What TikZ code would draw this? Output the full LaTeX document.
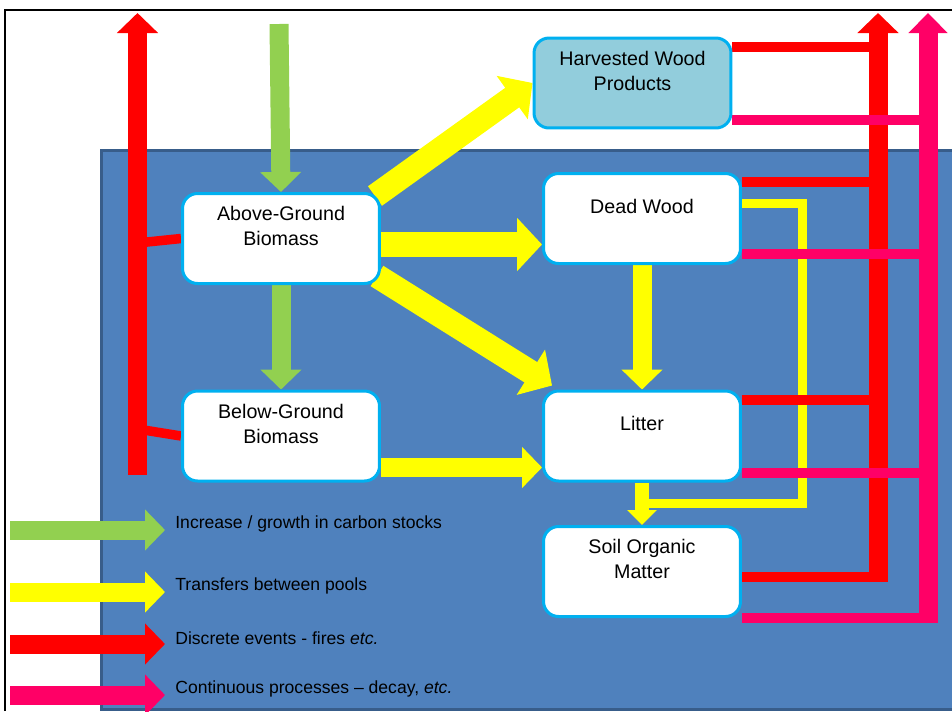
\documentclass[tikz,border=0pt]{standalone}
\usepackage{fontspec}
\setmainfont{Liberation Sans}
\usetikzlibrary{arrows.meta}
\definecolor{growgreen}{HTML}{92D050}
\definecolor{moveyellow}{HTML}{FFFF00}
\definecolor{firered}{HTML}{FF0000}
\definecolor{decaypink}{HTML}{FF0066}
\definecolor{poolline}{HTML}{00B0F0}
\definecolor{hwpfill}{HTML}{92CDDC}
\definecolor{sitefill}{HTML}{4F81BD}
\definecolor{siteline}{HTML}{385D8A}
\pgfdeclarelayer{back}
\pgfdeclarelayer{flows}
\pgfsetlayers{back,flows,main}
\tikzset{pool/.style={draw=poolline, line width=0.06cm, fill=white, rounded corners=0.3cm, minimum width=3.94cm, minimum height=1.8cm}}
\tikzset{pooltext/.style={font=\fontsize{11.2}{14.2}\selectfont, align=center, yshift=0.25cm}}
\tikzset{flow/.style={line width=0.38cm, -{Triangle[width=0.8cm,length=0.4cm]}}}
\tikzset{bigflow/.style={line width=0.5cm, -{Triangle[width=1.04cm,length=0.5cm]}}}
\tikzset{slimflow/.style={line width=0.28cm, -{Triangle[width=0.58cm,length=0.3cm]}}}
\tikzset{branch/.style={line width=0.19cm}}
\tikzset{loopline/.style={draw=moveyellow, line width=0.18cm}}
\tikzset{legtext/.style={font=\fontsize{10}{12}\selectfont, anchor=west, inner sep=0pt}}

\begin{document}
\begin{tikzpicture}[x=0.02cm,y=-0.02cm]
  \useasboundingbox (0,0) rectangle (952,711);
  % pools
  \foreach \x/\y/\lab/\txt in {
    281/238.5/agb/{Above-Ground\\Biomass},
    281/436/bgb/{Below-Ground\\Biomass},
    642/218.5/dw/{Dead Wood},
    642/436/lit/{Litter},
    642/571.5/som/{Soil Organic\\Matter}%
  } {
    \node[pool, label={[pooltext]center:\txt}] (\lab) at (\x, \y) {};
  }
  \node[pool, fill=hwpfill, label={[pooltext]center:Harvested Wood\\Products}] (hwp) at (632.5, 83) {};

  % free ends of the flows
  \coordinate (growin) at (279, 24);
  \coordinate (firel) at (137.5, 475);
  \coordinate (firelt) at (137.5, 13);
  \coordinate (fireagb) at (137.5, 243);
  \coordinate (firebgb) at (137.5, 429);
  \coordinate (firer) at (878, 582);
  \coordinate (firert) at (878, 13);
  \coordinate (decay) at (928, 623);
  \coordinate (decayt) at (928, 13);
  \coordinate (loopa) at (802, 203);
  \coordinate (loopb) at (802, 503);
  \coordinate (agbout) at ([shift={(0,6)}]agb.east);
  \coordinate (bgbout) at ([shift={(0,-15)}]bgb.south east);

  \begin{pgfonlayer}{back}
    \fill[sitefill] (101,150) rectangle (952,709);
    \draw[siteline, line width=0.06cm] (952,150) -- (101,150) -- (101,709) -- (952,709);
    \draw[black, line width=0.03cm] (5,711) -- (5,10) -- (952,10);
  \end{pgfonlayer}

  \begin{pgfonlayer}{flows}
    % growth
    \draw[flow, growgreen] (growin) -- (agb.north);
    \draw[flow, growgreen] (agb.south) -- (bgb.north);
    % transfers
    \draw[bigflow, moveyellow] (agbout) -- (agbout -| dw.west);
    \draw[bigflow, moveyellow, line width=0.48cm] ([shift={(-6,4)}]agb.north east) -- (hwp.west);
    \draw[bigflow, moveyellow, line width=0.48cm] ([shift={(-4,-9)}]agb.south east) -- ([shift={(10,-4)}]lit.north west);
    \draw[flow, moveyellow] (bgbout) -- (bgbout -| lit.west);
    \draw[flow, moveyellow] (dw.south) -- (lit.north);
    \draw[loopline] (loopa -| dw.east) -- (loopa) -- (loopb) -- (loopb -| lit.south);
    \draw[slimflow, moveyellow] (lit.south) -- (som.north);
    % events and processes
    \draw[flow, firered] (firel) -- (firelt);
    \draw[branch, firered] (agb.west) -- (fireagb);
    \draw[branch, firered] (bgb.west) -- (firebgb);
    \draw[flow, firered] (firer) -- (firert);
    \draw[flow, decaypink, -{Triangle[width=0.76cm,length=0.4cm]}] (decay) -- (decayt);
    \foreach \n/\dy in {hwp/-36,dw/-36.5,lit/-36,som/5.5} {
      \path ([shift={(0,\dy)}]\n.east) coordinate (fb);
      \draw[branch, firered] (fb) -- (fb -| firer);
    }
    \foreach \n/\dy in {hwp/37,dw/35.5,lit/37,som/46.5} {
      \path ([shift={(0,\dy)}]\n.east) coordinate (pb);
      \draw[branch, decaypink] (pb) -- (pb -| decay);
    }
  \end{pgfonlayer}

  % legend
  \foreach \col/\y/\txt [count=\i] in {
    growgreen/530/{Increase / growth in carbon stocks},
    moveyellow/592/{Transfers between pools},
    firered/644/{Discrete events - fires \textit{etc.}},
    decaypink/695/{Continuous processes -- decay, \textit{etc.}}%
  } {
    \coordinate (legs\i) at (10, \y);
    \coordinate (lege\i) at (165, \y);
    \draw[flow, \col] (legs\i) -- (lege\i);
    \node[legtext] (legt\i) at (175, \y-6) {\txt};
  }
\end{tikzpicture}
\end{document}
